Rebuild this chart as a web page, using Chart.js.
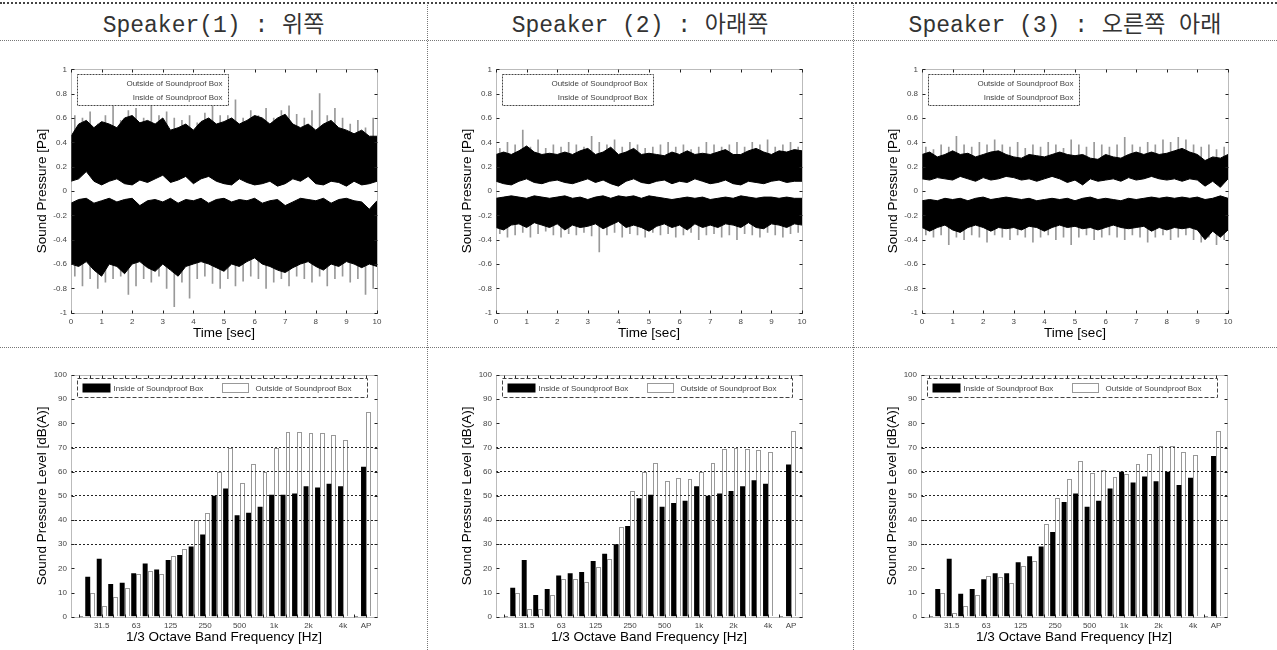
<!DOCTYPE html>
<html><head><meta charset="utf-8">
<script src="https://cdn.jsdelivr.net/npm/chart.js@4.4.1/dist/chart.umd.min.js"></script>
<style>
html,body{margin:0;padding:0;background:#fff;width:1277px;height:650px;overflow:hidden;position:relative;font-family:"Liberation Sans",Arial,sans-serif;}
.hdr{position:absolute;top:9px;height:34px;line-height:34px;text-align:center;font-family:"Liberation Mono","Noto Sans CJK KR",monospace;font-size:23px;color:#333;white-space:nowrap;}
.hl{position:absolute;left:0;width:1277px;height:0;border-top:1px dotted #777;}
.vl{position:absolute;top:3px;height:647px;width:0;border-left:1px dotted #777;}
canvas{position:absolute;}
</style></head><body>
<div class="hl" style="top:2px;border-top:2px dotted #444;"></div>
<div class="hl" style="top:40px;"></div>
<div class="hl" style="top:347px;"></div>
<div class="vl" style="left:427px;"></div>
<div class="vl" style="left:853px;"></div>
<div class="hdr" style="left:0;width:427px;">Speaker(1) : 위쪽</div>
<div class="hdr" style="left:427px;width:426px;">Speaker (2) : 아래쪽</div>
<div class="hdr" style="left:853px;width:424px;">Speaker (3) : 오른쪽 아래</div>
<canvas id="t1" width="420" height="300" style="left:0px;top:45px;"></canvas>
<canvas id="t2" width="420" height="300" style="left:425px;top:45px;"></canvas>
<canvas id="t3" width="420" height="300" style="left:851px;top:45px;"></canvas>
<canvas id="b1" width="420" height="290" style="left:0px;top:355px;"></canvas>
<canvas id="b2" width="420" height="290" style="left:425px;top:355px;"></canvas>
<canvas id="b3" width="420" height="290" style="left:850px;top:355px;"></canvas>
<script>
// ---------- data ----------
const timeSec = [0,0.25,0.5,0.75,1,1.25,1.5,1.75,2,2.25,2.5,2.75,3,3.25,3.5,3.75,4,4.25,4.5,4.75,5,5.25,5.5,5.75,6,6.25,6.5,6.75,7,7.25,7.5,7.75,8,8.25,8.5,8.75,9,9.25,9.5,9.75,10];
const spikeSec = [0.125,0.375,0.625,0.875,1.125,1.375,1.625,1.875,2.125,2.375,2.625,2.875,3.125,3.375,3.625,3.875,4.125,4.375,4.625,4.875,5.125,5.375,5.625,5.875,6.125,6.375,6.625,6.875,7.125,7.375,7.625,7.875,8.125,8.375,8.625,8.875,9.125,9.375,9.625,9.875];

const s1TopUpper = [0.45,0.55,0.58,0.52,0.57,0.55,0.52,0.6,0.62,0.56,0.58,0.55,0.6,0.5,0.52,0.55,0.5,0.57,0.6,0.55,0.57,0.6,0.55,0.58,0.62,0.6,0.55,0.6,0.63,0.55,0.52,0.55,0.5,0.55,0.58,0.52,0.5,0.47,0.5,0.45,0.45];
const s1TopLower = [0.08,0.1,0.16,0.08,0.05,0.08,0.1,0.06,0.05,0.09,0.07,0.1,0.13,0.07,0.09,0.12,0.06,0.1,0.12,0.08,0.06,0.05,0.1,0.07,0.05,0.06,0.08,0.04,0.06,0.1,0.08,0.12,0.06,0.05,0.08,0.07,0.04,0.08,0.05,0.06,0.08];
const s1BotUpper = [-0.1,-0.07,-0.06,-0.1,-0.08,-0.06,-0.09,-0.07,-0.06,-0.12,-0.08,-0.07,-0.09,-0.06,-0.1,-0.07,-0.08,-0.06,-0.1,-0.07,-0.06,-0.09,-0.07,-0.08,-0.06,-0.1,-0.08,-0.07,-0.12,-0.09,-0.06,-0.07,-0.08,-0.06,-0.1,-0.07,-0.06,-0.08,-0.09,-0.15,-0.08];
const s1BotLower = [-0.6,-0.62,-0.58,-0.65,-0.7,-0.6,-0.62,-0.68,-0.6,-0.58,-0.63,-0.66,-0.6,-0.65,-0.7,-0.62,-0.6,-0.58,-0.6,-0.63,-0.66,-0.6,-0.62,-0.58,-0.55,-0.6,-0.62,-0.65,-0.67,-0.63,-0.6,-0.58,-0.62,-0.65,-0.6,-0.62,-0.58,-0.6,-0.63,-0.6,-0.62];
const s1TopPeak = [0.62,0.6,0.65,0.55,0.62,0.7,0.58,0.66,0.68,0.6,0.72,0.62,0.65,0.6,0.58,0.62,0.56,0.64,0.7,0.62,0.62,0.75,0.6,0.66,0.62,0.68,0.6,0.66,0.7,0.63,0.6,0.66,0.8,0.62,0.68,0.6,0.55,0.58,0.52,0.6];
const s1BotPeak = [-0.7,-0.78,-0.72,-0.8,-0.75,-0.72,-0.7,-0.85,-0.78,-0.72,-0.75,-0.7,-0.8,-0.95,-0.75,-0.88,-0.72,-0.7,-0.76,-0.8,-0.72,-0.78,-0.74,-0.7,-0.72,-0.8,-0.75,-0.72,-0.78,-0.7,-0.72,-0.75,-0.7,-0.78,-0.72,-0.7,-0.75,-0.72,-0.85,-0.8];
const s1SpikeBase = [0.3, -0.3];

const s2TopUpper = [0.3,0.32,0.3,0.33,0.37,0.32,0.3,0.31,0.3,0.32,0.3,0.33,0.35,0.3,0.32,0.36,0.3,0.32,0.35,0.3,0.31,0.3,0.29,0.32,0.3,0.33,0.3,0.31,0.3,0.32,0.34,0.3,0.3,0.33,0.35,0.32,0.3,0.33,0.32,0.34,0.33];
const s2TopLower = [0.08,0.06,0.05,0.08,0.1,0.07,0.06,0.08,0.09,0.07,0.06,0.08,0.1,0.07,0.09,0.06,0.04,0.08,0.1,0.07,0.06,0.08,0.09,0.06,0.08,0.07,0.1,0.08,0.06,0.07,0.09,0.06,0.05,0.08,0.07,0.06,0.08,0.09,0.07,0.08,0.08];
const s2BotUpper = [-0.06,-0.05,-0.04,-0.05,-0.06,-0.04,-0.05,-0.06,-0.05,-0.04,-0.06,-0.05,-0.07,-0.05,-0.04,-0.06,-0.04,-0.05,-0.04,-0.06,-0.04,-0.05,-0.06,-0.07,-0.06,-0.05,-0.06,-0.05,-0.07,-0.06,-0.05,-0.06,-0.04,-0.05,-0.06,-0.05,-0.05,-0.06,-0.05,-0.06,-0.06];
const s2BotLower = [-0.3,-0.32,-0.28,-0.27,-0.3,-0.26,-0.28,-0.3,-0.27,-0.32,-0.28,-0.3,-0.29,-0.27,-0.31,-0.28,-0.25,-0.3,-0.28,-0.3,-0.33,-0.29,-0.27,-0.3,-0.28,-0.32,-0.27,-0.3,-0.28,-0.3,-0.27,-0.28,-0.3,-0.26,-0.3,-0.31,-0.27,-0.28,-0.3,-0.27,-0.28];
const s2TopPeak = [0.35,0.4,0.38,0.5,0.36,0.42,0.35,0.38,0.36,0.4,0.38,0.36,0.45,0.4,0.38,0.42,0.36,0.4,0.38,0.35,0.36,0.38,0.4,0.36,0.38,0.34,0.36,0.4,0.38,0.36,0.38,0.4,0.36,0.4,0.38,0.42,0.36,0.38,0.4,0.36];
const s2BotPeak = [-0.35,-0.38,-0.36,-0.34,-0.38,-0.35,-0.33,-0.36,-0.38,-0.35,-0.36,-0.34,-0.37,-0.5,-0.36,-0.34,-0.38,-0.35,-0.36,-0.38,-0.34,-0.36,-0.35,-0.38,-0.36,-0.34,-0.4,-0.36,-0.35,-0.38,-0.36,-0.4,-0.35,-0.36,-0.38,-0.34,-0.36,-0.38,-0.35,-0.34];
const s2SpikeBase = [0.2, -0.15];

const s3TopUpper = [0.3,0.32,0.28,0.3,0.33,0.3,0.31,0.28,0.3,0.32,0.33,0.3,0.28,0.27,0.3,0.29,0.28,0.3,0.32,0.3,0.29,0.3,0.27,0.26,0.3,0.28,0.27,0.3,0.32,0.3,0.32,0.3,0.31,0.33,0.35,0.32,0.3,0.25,0.28,0.27,0.3];
const s3TopLower = [0.1,0.09,0.11,0.1,0.09,0.12,0.1,0.08,0.11,0.09,0.1,0.12,0.11,0.09,0.1,0.08,0.1,0.12,0.1,0.07,0.09,0.05,0.1,0.08,0.09,0.1,0.08,0.11,0.09,0.1,0.12,0.1,0.09,0.1,0.08,0.1,0.09,0.04,0.08,0.03,0.1];
const s3BotUpper = [-0.08,-0.07,-0.08,-0.06,-0.07,-0.06,-0.08,-0.06,-0.05,-0.07,-0.06,-0.05,-0.06,-0.07,-0.06,-0.08,-0.07,-0.06,-0.07,-0.06,-0.08,-0.06,-0.05,-0.07,-0.06,-0.07,-0.08,-0.06,-0.07,-0.06,-0.05,-0.06,-0.05,-0.06,-0.05,-0.06,-0.05,-0.07,-0.06,-0.04,-0.06];
const s3BotLower = [-0.3,-0.33,-0.3,-0.28,-0.32,-0.34,-0.3,-0.28,-0.3,-0.33,-0.3,-0.31,-0.3,-0.32,-0.29,-0.3,-0.33,-0.3,-0.28,-0.3,-0.29,-0.31,-0.3,-0.32,-0.3,-0.28,-0.3,-0.31,-0.3,-0.29,-0.33,-0.3,-0.32,-0.3,-0.31,-0.3,-0.32,-0.4,-0.33,-0.38,-0.32];
const s3TopPeak = [0.36,0.34,0.38,0.36,0.45,0.38,0.36,0.4,0.38,0.42,0.38,0.36,0.4,0.35,0.38,0.36,0.4,0.38,0.35,0.42,0.38,0.36,0.4,0.38,0.36,0.38,0.44,0.38,0.36,0.4,0.38,0.42,0.4,0.44,0.42,0.38,0.36,0.38,0.34,0.36];
const s3BotPeak = [-0.36,-0.38,-0.36,-0.44,-0.38,-0.4,-0.36,-0.38,-0.42,-0.36,-0.38,-0.4,-0.36,-0.38,-0.42,-0.38,-0.36,-0.4,-0.38,-0.44,-0.38,-0.36,-0.4,-0.38,-0.36,-0.38,-0.4,-0.36,-0.38,-0.42,-0.38,-0.36,-0.4,-0.38,-0.36,-0.4,-0.42,-0.38,-0.44,-0.4];
const s3SpikeBase = [0.2, -0.15];

const bandCategories = ['20','25','31.5','40','50','63','80','100','125','160','200','250','315','400','500','630','800','1k','1.25k','1.6k','2k','2.5k','3.15k','4k','5k','AP'];
const bandTickLabels = ['31.5','63','125','250','500','1k','2k','4k','AP'];

const spk1Inside  = [0,16.5,24,13.5,14,18,22,19.5,23.5,25.5,29,34,50,53,42,43,45.5,50.5,50.5,51,54,53.5,55,54,0,62];
const spk1Outside = [0,10,4.5,8,12,17.5,19,17.5,25,28,40,43,60,70,55.5,63,60,70,76.5,76.5,76,76,75,73,0,84.5];
const spk2Inside  = [0,12,23.5,9,11.5,17,18,18.5,23,26,30,37.5,49,50.5,45.5,47,48,54,50,51,52,54,56.5,55,0,63];
const spk2Outside = [0,10,3,3,9,15.5,15.5,14.5,20.5,24,37,52,60,63.5,56,57.5,57,60,63.5,69.5,70,69.5,69,68,0,77];
const spk3Inside  = [0,11.5,24,9.5,11.5,15.5,18,18,22.5,25,29,35,47.5,51,45.5,48,53,60,55.5,58,56,60,54.5,57.5,0,66.5];
const spk3Outside = [0,10,1.5,4.5,9,17,16.5,14,21,23,38.5,49,57,64.5,59.5,60.5,58,59,63,67.5,70.5,70.5,68,67,0,77];

const legendOutside = 'Outside of Soundproof Box';
const legendInside = 'Inside of Soundproof Box';

// ---------- plugin: MATLAB-like box, inner ticks, dotted bars, legend ----------
const boxPlugin = {
  id: 'matlabBox',
  afterDatasetsDraw(chart, args, o) {
    if (o.kind !== 'bar') return;
    const ctx = chart.ctx;
    const meta = chart.getDatasetMeta(1);
    ctx.save();
    ctx.strokeStyle = '#333'; ctx.lineWidth = 1; ctx.setLineDash([1, 1]);
    meta.data.forEach(el => {
      const p = el.getProps(['x', 'y', 'base', 'width'], true);
      const l = Math.round(p.x - p.width / 2) + 0.5, r = Math.round(p.x + p.width / 2) - 0.5;
      const t = Math.round(p.y) + 0.5, b = Math.round(p.base) + 0.5;
      if (b - t < 1) { ctx.beginPath(); ctx.moveTo(l, b - 1); ctx.lineTo(r, b - 1); ctx.stroke(); return; }
      ctx.beginPath();
      ctx.moveTo(l, b); ctx.lineTo(l, t); ctx.lineTo(r, t); ctx.lineTo(r, b);
      ctx.stroke();
    });
    ctx.restore();
  },
  afterDraw(chart, args, o) {
    const {ctx, chartArea: ca, scales} = chart;
    const L = Math.round(ca.left) + 0.5, R = Math.round(ca.right) + 0.5, T = Math.round(ca.top) + 0.5, B = Math.round(ca.bottom) + 0.5;
    ctx.save();
    ctx.lineWidth = 1;
    ctx.strokeStyle = '#777';
    ctx.setLineDash([1, 1]);
    ctx.beginPath();
    ctx.moveTo(L, T); ctx.lineTo(R, T); ctx.lineTo(R, B); ctx.lineTo(L, B); ctx.closePath();
    ctx.stroke();
    ctx.setLineDash([]);
    ctx.strokeStyle = '#222';
    const tl = 3;
    const seg = (x1, y1, x2, y2) => { ctx.beginPath(); ctx.moveTo(x1, y1); ctx.lineTo(x2, y2); ctx.stroke(); };
    (o.xTickValues || scales.x.ticks.map(t => t.value)).forEach(v => {
      const x = Math.round(scales.x.getPixelForValue(v)) + 0.5;
      seg(x, T, x, T + tl); seg(x, B, x, B - tl);
    });
    scales.y.ticks.forEach(t => {
      const y = Math.round(scales.y.getPixelForValue(t.value)) + 0.5;
      seg(L, y, L + tl, y); seg(R, y, R - tl, y);
    });
    // legend
    ctx.font = '8px "Liberation Sans", Arial, sans-serif';
    ctx.textBaseline = 'middle';
    if (o.kind === 'time') {
      const bx = Math.round(ca.left + 6) + 0.5, by = Math.round(ca.top + 5) + 0.5, bw = 151, bh = 31;
      ctx.fillStyle = '#fff'; ctx.fillRect(bx, by, bw, bh);
      ctx.strokeStyle = '#444'; ctx.setLineDash([2, 1]);
      ctx.strokeRect(bx, by, bw, bh);
      ctx.setLineDash([]);
      ctx.fillStyle = '#444'; ctx.textAlign = 'right';
      ctx.fillText(o.labels[0], bx + bw - 6, by + 9);
      ctx.fillText(o.labels[1], bx + bw - 6, by + 23);
    } else if (o.kind === 'bar') {
      const bx = Math.round(ca.left + 6) + 0.5, by = Math.round(ca.top + 3) + 0.5, bw = 290, bh = 19;
      ctx.fillStyle = '#fff'; ctx.fillRect(bx, by, bw, bh);
      ctx.strokeStyle = '#444'; ctx.setLineDash([4, 2]);
      ctx.strokeRect(bx, by, bw, bh);
      ctx.setLineDash([]);
      ctx.fillStyle = '#000'; ctx.fillRect(bx + 5, by + 5, 28, 9);
      ctx.strokeStyle = '#333'; ctx.setLineDash([1, 1]);
      ctx.strokeRect(bx + 145, by + 5, 26, 9);
      ctx.setLineDash([]);
      ctx.fillStyle = '#444'; ctx.textAlign = 'left';
      ctx.fillText(o.labels[0], bx + 36, by + 10);
      ctx.fillText(o.labels[1], bx + 178, by + 10);
    }
    ctx.restore();
  }
};

const tickFont = {family: '"Liberation Sans", Arial, sans-serif', size: 8};
const titleFont = {family: '"Liberation Sans", Arial, sans-serif', size: 13.5};

function pts(xs, ys) { return xs.map((x, i) => ({x: x, y: ys[i]})); }
function spikes(xs, base, ys) { return xs.map((x, i) => ({x: x, y: [base, ys[i]]})); }

function timeChart(id, topU, topL, botU, botL, topP, botP, spikeBase) {
  const base = {type: 'line', borderColor: '#000', backgroundColor: '#000', borderWidth: 1, pointRadius: 0, tension: 0, order: 1};
  const sp = {type: 'bar', backgroundColor: '#999', barThickness: 1, grouped: false, order: 2};
  new Chart(document.getElementById(id), {
    type: 'line',
    data: {datasets: [
      Object.assign({label: legendOutside, data: pts(timeSec, topU), fill: '+1'}, base),
      Object.assign({label: legendOutside + ' (min)', data: pts(timeSec, topL), fill: false}, base),
      Object.assign({label: legendInside, data: pts(timeSec, botU), fill: '+1'}, base),
      Object.assign({label: legendInside + ' (min)', data: pts(timeSec, botL), fill: false}, base),
      Object.assign({label: legendOutside + ' peaks', data: spikes(spikeSec, spikeBase[0], topP)}, sp),
      Object.assign({label: legendInside + ' peaks', data: spikes(spikeSec, spikeBase[1], botP)}, sp)
    ]},
    options: {
      responsive: false, animation: false, events: [],
      layout: {padding: {left: 0, right: 43, top: 24.3, bottom: 0}},
      plugins: {legend: {display: false}, tooltip: {enabled: false},
        matlabBox: {kind: 'time', labels: [legendOutside, legendInside]}},
      scales: {
        x: {type: 'linear', min: 0, max: 10, offset: false,
          afterFit(s) { s.height = 32.3; },
          ticks: {stepSize: 1, font: tickFont, color: '#444', padding: 4, maxRotation: 0},
          grid: {display: false, drawTicks: false}, border: {display: false},
          title: {display: true, text: 'Time [sec]', font: titleFont, color: '#000', padding: {top: 0, bottom: 4}}},
        y: {type: 'linear', min: -1, max: 1,
          afterFit(s) { s.width = 71; },
          ticks: {stepSize: 0.2, font: tickFont, color: '#444', padding: 4,
            callback: v => String(Math.round(v * 10) / 10)},
          grid: {display: false, drawTicks: false}, border: {display: false},
          title: {display: true, text: 'Sound Pressure [Pa]', font: titleFont, color: '#000', padding: {top: 34, bottom: 0}}}
      }
    },
    plugins: [boxPlugin]
  });
}

function barChart(id, inside, outside) {
  const idx = bandCategories.map((c, i) => i);
  new Chart(document.getElementById(id), {
    type: 'bar',
    data: {datasets: [
      {label: legendInside, data: pts(idx, inside), backgroundColor: '#000', borderWidth: 0, barPercentage: 1, categoryPercentage: 0.86},
      {label: legendOutside, data: pts(idx, outside), backgroundColor: 'rgba(255,255,255,0)', borderWidth: 0, barPercentage: 1, categoryPercentage: 0.86}
    ]},
    options: {
      responsive: false, animation: false, events: [],
      layout: {padding: {left: 0, right: 43, top: 20, bottom: 0}},
      plugins: {legend: {display: false}, tooltip: {enabled: false},
        matlabBox: {kind: 'bar', labels: [legendInside, legendOutside], xTickValues: idx}},
      scales: {
        x: {type: 'linear', min: -0.67, max: 25.96, offset: false,
          afterFit(s) { s.height = 28.3; },
          afterBuildTicks(s) { s.ticks = bandTickLabels.map(l => ({value: bandCategories.indexOf(l)})); },
          ticks: {autoSkip: false, font: tickFont, color: '#444', padding: 4, maxRotation: 0,
            callback: v => bandCategories[Math.round(v)]},
          grid: {display: false, drawTicks: false}, border: {display: false},
          title: {display: true, text: '1/3 Octave Band Frequency [Hz]', font: titleFont, color: '#000', padding: {top: 0, bottom: 0}}},
        y: {type: 'linear', min: 0, max: 100,
          afterFit(s) { s.width = 71; },
          ticks: {stepSize: 10, font: tickFont, color: '#444', padding: 4},
          grid: {drawTicks: false, lineWidth: 1,
            color: c => (c.tick && c.tick.value >= 30 && c.tick.value <= 70) ? '#222' : 'rgba(0,0,0,0)'},
          border: {display: false, dash: [2, 2]},
          title: {display: true, text: 'Sound Pressure Level [dB(A)]', font: titleFont, color: '#000', padding: {top: 34, bottom: 0}}}
      }
    },
    plugins: [boxPlugin]
  });
}

timeChart('t1', s1TopUpper, s1TopLower, s1BotUpper, s1BotLower, s1TopPeak, s1BotPeak, s1SpikeBase);
timeChart('t2', s2TopUpper, s2TopLower, s2BotUpper, s2BotLower, s2TopPeak, s2BotPeak, s2SpikeBase);
timeChart('t3', s3TopUpper, s3TopLower, s3BotUpper, s3BotLower, s3TopPeak, s3BotPeak, s3SpikeBase);
barChart('b1', spk1Inside, spk1Outside);
barChart('b2', spk2Inside, spk2Outside);
barChart('b3', spk3Inside, spk3Outside);
</script>
</body></html>
